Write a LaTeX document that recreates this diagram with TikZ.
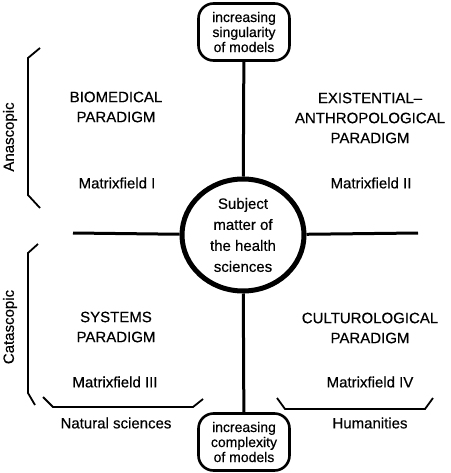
\documentclass[tikz,border=0pt]{standalone}
\usepackage{fontspec}
\setmainfont[FakeBold=0.4]{Liberation Sans}
\usetikzlibrary{shapes.geometric}
\tikzset{
  field/.style={align=center, font=\fontsize{15}{20}\selectfont},
  scalebox/.style={draw, line width=2.6pt, rounded corners=15pt, minimum width=91pt, minimum height=57pt, align=center, inner sep=0pt, fill=white, font=\fontsize{14}{15}\selectfont},
  axis/.style={line width=3pt},
  bracket/.style={line width=1.8pt}
}
\begin{document}
\begin{tikzpicture}[x=1pt,y=-1pt]
\useasboundingbox (0,0) rectangle (450,473);
% centre and the two scales
\node[ellipse, draw, line width=5pt, minimum width=122pt, minimum height=112pt, inner sep=0pt, fill=white, align=center, font=\fontsize{15}{21}\selectfont] (core) at (243,235) {Subject\\matter of\\the health\\sciences};
\node[scalebox] (top) at (244,32) {increasing\\singularity\\of models};
\node[scalebox] (bot) at (244,442) {increasing\\complexity\\of models};
\coordinate (w) at (73,233);
\coordinate (e) at (418,233);
\draw[axis] (top) -- (core);
\draw[axis] (bot) -- (core);
\draw[axis] (w) -- (core);
\draw[axis] (e) -- (core);
% the four fields
\node[field] (bio) at (116,107) {BIOMEDICAL\\PARADIGM};
\node[field] (mat1) at (117,183) {Matrixfield I};
\node[field] (exi) at (370,118) {EXISTENTIAL\textendash\\ANTHROPOLOGICAL\\PARADIGM};
\node[field] (mat2) at (371,183) {Matrixfield II};
\node[field] (sys) at (116,327) {SYSTEMS\\PARADIGM};
\node[field] (mat3) at (115,382) {Matrixfield III};
\node[field] (cul) at (370,328) {CULTUROLOGICAL\\PARADIGM};
\node[field] (mat4) at (370,382) {Matrixfield IV};
% brackets
\draw[bracket] (40,48) -- (28,58) -- (28,195) -- (40,208);
\draw[bracket] (38,244) -- (28,253) -- (28,393) -- (35,405);
\draw[bracket] (43,397) -- (53,407) -- (193,407) -- (203,399);
\draw[bracket] (277,398) -- (285,409) -- (425,409) -- (433,398);
\node[field, rotate=90] (ana) at (10,137) {Anascopic};
\node[field, rotate=90] (cat) at (10,327) {Catascopic};
\node[field] (nat) at (116,423) {Natural sciences};
\node[field] (hum) at (370,423) {Humanities};
\end{tikzpicture}
\end{document}
